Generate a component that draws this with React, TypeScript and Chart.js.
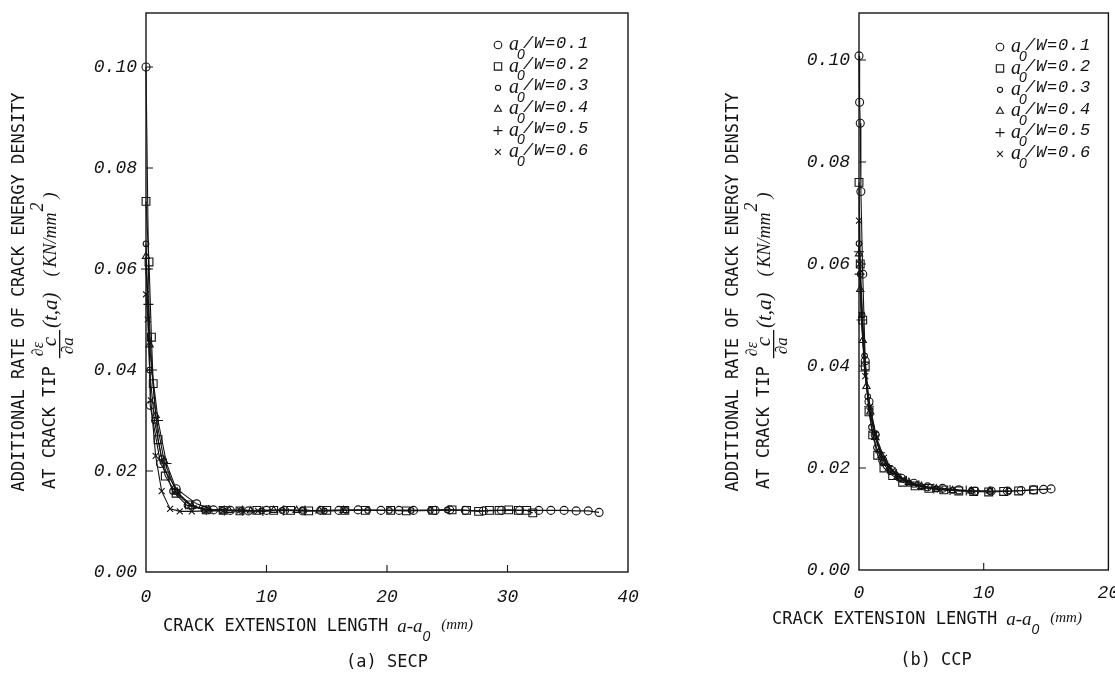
import React, { useEffect, useRef } from "react";
import { Chart, registerables } from "chart.js";

Chart.register(...registerables);

// ---------- data ----------
const ratioLabels = ["0.1", "0.2", "0.3", "0.4", "0.5", "0.6"];
const markerStyles = ["circle", "rect", "circle", "triangle", "cross", "crossRot"];
const markerRadii = [4, 5.5, 2.8, 4.2, 5, 4.2];
const legendRadii = [3.8, 5.2, 2.6, 4, 4.5, 4];

const yTickValues = [0, 0.02, 0.04, 0.06, 0.08, 0.1];
const xTicksSecp = [0, 10, 20, 30, 40];
const xTicksCcp = [0, 10, 20];

// (a) SECP
const secpX1 = [0, 0.35, 1.2, 2.5, 4.2, 5.6, 7.0, 8.5, 10.0, 11.5, 13.0, 14.5, 16.0, 17.6, 19.5, 21.0, 22.2, 24.0, 25.2, 26.5, 28.0, 29.5, 31.0, 32.6, 33.6, 34.7, 35.7, 36.7, 37.6];
const secpY1 = [0.1, 0.033, 0.0215, 0.0165, 0.0135, 0.0123, 0.0122, 0.0121, 0.0122, 0.0122, 0.0121, 0.0122, 0.0122, 0.0123, 0.0122, 0.0122, 0.0122, 0.0122, 0.0123, 0.0122, 0.0121, 0.0122, 0.0122, 0.0122, 0.0122, 0.0122, 0.0121, 0.0121, 0.0118];
const secpX2 = [0, 0.25, 0.45, 0.6, 1.0, 1.6, 2.5, 3.6, 5.0, 6.4, 7.8, 9.2, 10.6, 12.0, 13.5, 15.0, 16.5, 18.2, 20.3, 21.6, 23.8, 25.4, 26.6, 27.6, 28.5, 29.3, 30.1, 30.9, 31.6, 32.1];
const secpY2 = [0.0734, 0.0614, 0.0465, 0.0373, 0.0262, 0.019, 0.0156, 0.0133, 0.0123, 0.0122, 0.0121, 0.0122, 0.0122, 0.0122, 0.0121, 0.0122, 0.0122, 0.0122, 0.0122, 0.0121, 0.0122, 0.0123, 0.0122, 0.012, 0.0122, 0.0122, 0.0123, 0.0122, 0.0122, 0.0117];
const secpX3 = [0, 0.3, 0.7, 1.3, 2.2, 3.4, 4.8, 6.3, 7.9, 9.6, 11.3, 13.0, 14.8, 16.6, 18.4, 20.2, 22.0, 23.6, 25.0];
const secpY3 = [0.065, 0.04, 0.03, 0.0225, 0.016, 0.0132, 0.0124, 0.0122, 0.0122, 0.0121, 0.0122, 0.0122, 0.0121, 0.0122, 0.0122, 0.0122, 0.0122, 0.0122, 0.0123];
const secpX4 = [0, 0.3, 0.8, 1.5, 2.5, 3.8, 5.2, 6.9, 8.7, 10.6, 12.5, 14.4, 16.4];
const secpY4 = [0.0625, 0.045, 0.031, 0.022, 0.0158, 0.013, 0.0123, 0.0122, 0.0121, 0.0122, 0.0122, 0.0121, 0.0122];
const secpX5 = [0, 0.2, 0.5, 1.0, 1.7, 2.6, 3.8, 5.0, 6.5, 8.0, 9.7, 11.4, 13.2];
const secpY5 = [0.06, 0.053, 0.04, 0.03, 0.0215, 0.0158, 0.0131, 0.0123, 0.0122, 0.0122, 0.0121, 0.0122, 0.0122];
const secpX6 = [0, 0.15, 0.4, 0.8, 1.3, 2.0, 2.8, 3.8, 5.0, 6.4, 7.8, 9.3];
const secpY6 = [0.055, 0.05, 0.034, 0.023, 0.016, 0.0125, 0.012, 0.012, 0.0121, 0.0121, 0.0122, 0.0121];

// (b) CCP
const ccpX1 = [0, 0.05, 0.1, 0.15, 0.3, 0.5, 0.8, 1.3, 1.9, 2.6, 3.4, 4.4, 5.5, 6.7, 8.0, 9.3, 10.6, 11.9, 13.0, 14.0, 14.8, 15.4];
const ccpY1 = [0.1008, 0.0917, 0.0876, 0.0742, 0.058, 0.041, 0.033, 0.0265, 0.0215, 0.0195, 0.018, 0.017, 0.0163, 0.016, 0.0157, 0.0155, 0.0155, 0.0155, 0.0156, 0.0157, 0.0158, 0.0159];
const ccpX2 = [0, 0.1, 0.3, 0.5, 0.8, 1.1, 1.5, 2.0, 2.7, 3.5, 4.5, 5.6, 6.8, 8.0, 9.2, 10.4, 11.6, 12.8, 14.0];
const ccpY2 = [0.076, 0.06, 0.049, 0.04, 0.031, 0.0265, 0.0225, 0.02, 0.0185, 0.0172, 0.0165, 0.016, 0.0157, 0.0155, 0.0154, 0.0153, 0.0154, 0.0155, 0.0157];
const ccpX3 = [0, 0.1, 0.25, 0.45, 0.7, 1.0, 1.4, 1.9, 2.5, 3.2, 4.0, 5.0, 6.2, 7.5, 9.0, 10.5, 12.0];
const ccpY3 = [0.064, 0.058, 0.05, 0.042, 0.034, 0.028, 0.024, 0.021, 0.0193, 0.018, 0.017, 0.0163, 0.0159, 0.0156, 0.0155, 0.0154, 0.0155];
const ccpX4 = [0, 0.1, 0.3, 0.6, 0.9, 1.3, 1.8, 2.4, 3.1, 4.0, 5.0, 6.2, 7.5, 9.0, 10.5];
const ccpY4 = [0.062, 0.055, 0.045, 0.036, 0.031, 0.026, 0.0225, 0.02, 0.0183, 0.0172, 0.0164, 0.0159, 0.0156, 0.0155, 0.0155];
const ccpX5 = [0, 0.05, 0.2, 0.45, 0.8, 1.2, 1.7, 2.3, 3.0, 3.8, 4.8, 6.0, 7.3, 8.6];
const ccpY5 = [0.0624, 0.058, 0.049, 0.039, 0.032, 0.027, 0.023, 0.0205, 0.0188, 0.0175, 0.0166, 0.016, 0.0157, 0.0156];
const ccpX6 = [0, 0.05, 0.2, 0.5, 0.9, 1.4, 2.0, 2.7, 3.5, 4.4, 5.4, 6.5];
const ccpY6 = [0.0685, 0.06, 0.05, 0.038, 0.032, 0.026, 0.022, 0.0195, 0.0178, 0.0168, 0.0162, 0.0158];

const INK = "#141414";
const MONO = '"DejaVu Sans Mono", monospace';
const SERIF = '"Liberation Serif", serif';
const TICKMONO = '"Liberation Mono", monospace';
const H = 686;

type PanelCfg = {
  id: string;
  left: number;
  width: number;
  plotLeft: number;
  plotRight: number;
  plotTop: number;
  plotBottom: number;
  xMax: number;
  yMax: number;
  xTicks: number[];
  xs: number[][];
  ys: number[][];
  yTitleX1: number;
  yTitleX2: number;
  yTitleCy: number;
  yTitleStart: number;
  xTitleX: number;
  xTitleY: number;
  caption: string;
  captionX: number;
  captionY: number;
  legendMarkerX: number;
  legendTextX: number;
  legendY: number;
  xTickPad: number;
};

function drawMarker(ctx: CanvasRenderingContext2D, style: string, x: number, y: number, r: number) {
  ctx.beginPath();
  if (style === "circle") {
    ctx.arc(x, y, r, 0, Math.PI * 2);
  } else if (style === "rect") {
    const s = r * Math.SQRT1_2;
    ctx.rect(x - s, y - s, 2 * s, 2 * s);
  } else if (style === "triangle") {
    let a = 0;
    ctx.moveTo(x + Math.sin(a) * r, y - Math.cos(a) * r);
    a += (2 * Math.PI) / 3;
    ctx.lineTo(x + Math.sin(a) * r, y - Math.cos(a) * r);
    a += (2 * Math.PI) / 3;
    ctx.lineTo(x + Math.sin(a) * r, y - Math.cos(a) * r);
    ctx.closePath();
  } else if (style === "cross") {
    ctx.moveTo(x, y - r);
    ctx.lineTo(x, y + r);
    ctx.moveTo(x - r, y);
    ctx.lineTo(x + r, y);
  } else {
    const d = r * Math.SQRT1_2;
    ctx.moveTo(x - d, y - d);
    ctx.lineTo(x + d, y + d);
    ctx.moveTo(x + d, y - d);
    ctx.lineTo(x - d, y + d);
  }
  ctx.stroke();
}

function drawYTitle(ctx: CanvasRenderingContext2D, c: PanelCfg) {
  ctx.fillStyle = INK;
  ctx.save();
  ctx.translate(c.yTitleX1, c.yTitleCy);
  ctx.rotate(-Math.PI / 2);
  ctx.font = `17px ${MONO}`;
  ctx.textAlign = "center";
  ctx.textBaseline = "middle";
  ctx.fillText("ADDITIONAL RATE OF CRACK ENERGY DENSITY", 0, 0);
  ctx.restore();

  ctx.save();
  ctx.translate(c.yTitleX2, c.yTitleStart);
  ctx.rotate(-Math.PI / 2);
  ctx.textAlign = "left";
  ctx.textBaseline = "middle";
  let p = 0;
  ctx.font = `17px ${MONO}`;
  ctx.fillText("AT CRACK TIP", p, 0);
  p += ctx.measureText("AT CRACK TIP").width + 10;
  // fraction  d(eps)_c / da
  ctx.font = `italic 16px ${SERIF}`;
  const numW = ctx.measureText("∂ε").width;
  ctx.fillText("∂ε", p, -12);
  ctx.font = `italic 21px ${SERIF}`;
  ctx.fillText("c", p + numW * 0.7, -1);
  ctx.fillRect(p - 2, 8, numW + 14, 1.3);
  ctx.font = `italic 17px ${SERIF}`;
  ctx.fillText("∂a", p + 2, 18);
  p += numW + 14;
  ctx.font = `italic 21px ${SERIF}`;
  ctx.fillText("(t,a)", p, 0);
  p += ctx.measureText("(t,a)").width + 16;
  ctx.font = `italic 18px ${SERIF}`;
  ctx.fillText("(", p, 0);
  p += ctx.measureText("(").width + 3;
  ctx.fillText("KN/mm", p, 0);
  p += ctx.measureText("KN/mm").width + 1;
  ctx.font = `italic 18px ${SERIF}`;
  ctx.fillText("2", p, -13);
  p += ctx.measureText("2").width + 4;
  ctx.font = `italic 18px ${SERIF}`;
  ctx.fillText(")", p, 0);
  ctx.restore();
}

function drawXTitle(ctx: CanvasRenderingContext2D, c: PanelCfg) {
  ctx.save();
  ctx.fillStyle = INK;
  ctx.textAlign = "left";
  ctx.textBaseline = "middle";
  let x = c.xTitleX;
  const y = c.xTitleY;
  ctx.font = `17px ${MONO}`;
  ctx.fillText("CRACK EXTENSION LENGTH", x, y);
  x += ctx.measureText("CRACK EXTENSION LENGTH").width + 9;
  ctx.font = `italic 19px ${SERIF}`;
  ctx.fillText("a-a", x, y);
  x += ctx.measureText("a-a").width;
  ctx.font = `italic 14px "Liberation Sans", sans-serif`;
  ctx.fillText("0", x, y + 10);
  x += ctx.measureText("0").width + 11;
  ctx.font = `italic 15px ${SERIF}`;
  ctx.fillText("(mm)", x, y - 2);
  ctx.font = `17px ${MONO}`;
  ctx.textAlign = "center";
  ctx.fillText(c.caption, c.captionX, c.captionY);
  ctx.restore();
}

function drawLegend(ctx: CanvasRenderingContext2D, c: PanelCfg) {
  ctx.save();
  ctx.strokeStyle = INK;
  ctx.fillStyle = INK;
  ctx.lineWidth = 1.1;
  ctx.textBaseline = "middle";
  ctx.textAlign = "left";
  for (let i = 0; i < ratioLabels.length; i++) {
    const y = c.legendY + i * 21.4;
    drawMarker(ctx, markerStyles[i], c.legendMarkerX, y, legendRadii[i]);
    ctx.font = `italic 20px ${SERIF}`;
    ctx.fillText("a", c.legendTextX, y);
    ctx.font = `italic 14px "Liberation Sans", sans-serif`;
    ctx.fillText("0", c.legendTextX + 8, y + 10);
    ctx.font = `italic 17px ${TICKMONO}`;
    const s = "/W=" + ratioLabels[i];
    for (let j = 0; j < s.length; j++) {
      ctx.fillText(s[j], c.legendTextX + 14 + j * 11, y - 2);
    }
  }
  ctx.restore();
}

function makeConfig(c: PanelCfg): any {
  const datasets = c.xs.map((xs, k) => ({
    label: "a0/W=" + ratioLabels[k],
    data: xs.map((x, i) => ({ x, y: c.ys[k][i] })),
    showLine: true,
    borderColor: INK,
    borderWidth: 1.1,
    pointStyle: markerStyles[k],
    pointRadius: markerRadii[k],
    pointBorderWidth: 1.1,
    pointBorderColor: INK,
    pointBackgroundColor: "rgba(0,0,0,0)",
    tension: 0,
    fill: false,
    clip: false,
  }));
  const framePlugin = {
    id: "frame-" + c.id,
    afterDraw(chart: any) {
      const ctx: CanvasRenderingContext2D = chart.ctx;
      const a = chart.chartArea;
      const xs = chart.scales.x;
      const ys = chart.scales.y;
      ctx.save();
      ctx.strokeStyle = INK;
      ctx.lineWidth = 1.4;
      ctx.strokeRect(a.left, a.top, a.right - a.left, a.bottom - a.top);
      ctx.lineWidth = 1.1;
      ctx.beginPath();
      yTickValues.slice(1).forEach((v) => {
        const py = ys.getPixelForValue(v);
        ctx.moveTo(a.left, py);
        ctx.lineTo(a.left + 7, py);
      });
      c.xTicks.slice(1, -1).forEach((v) => {
        const px = xs.getPixelForValue(v);
        ctx.moveTo(px, a.bottom);
        ctx.lineTo(px, a.bottom - 7);
      });
      ctx.stroke();
      ctx.restore();
      drawLegend(ctx, c);
      drawYTitle(ctx, c);
      drawXTitle(ctx, c);
    },
  };
  return {
    type: "scatter",
    data: { datasets },
    options: {
      responsive: false,
      animation: false,
      events: [],
      layout: {
        padding: {
          left: 0,
          top: c.plotTop,
          right: c.width - c.plotRight,
          bottom: 0,
        },
      },
      plugins: { legend: { display: false }, tooltip: { enabled: false }, title: { display: false } },
      scales: {
        x: {
          type: "linear",
          min: 0,
          max: c.xMax,
          grid: { display: false, drawTicks: false },
          border: { display: false },
          ticks: {
            stepSize: 10,
            includeBounds: false,
            padding: c.xTickPad,
            color: INK,
            font: { family: TICKMONO, style: "italic", size: 18 },
            maxRotation: 0,
            callback: (v: any) => String(v),
          },
          afterFit: (s: any) => {
            s.height = H - c.plotBottom;
            s.paddingLeft = 0;
            s.paddingRight = 0;
          },
        },
        y: {
          type: "linear",
          min: 0,
          max: c.yMax,
          grid: { display: false, drawTicks: false },
          border: { display: false },
          ticks: {
            stepSize: 0.02,
            includeBounds: false,
            padding: 9,
            color: INK,
            font: { family: TICKMONO, style: "italic", size: 18 },
            callback: (v: any) => Number(v).toFixed(2),
          },
          afterFit: (s: any) => {
            s.width = c.plotLeft;
            s.paddingTop = 0;
            s.paddingBottom = 0;
          },
        },
      },
    },
    plugins: [framePlugin],
  };
}

const secpPanel: PanelCfg = {
  id: "secp",
  left: 0,
  width: 700,
  plotLeft: 146,
  plotRight: 628,
  plotTop: 13,
  plotBottom: 572,
  xMax: 40,
  yMax: 0.1107,
  xTicks: xTicksSecp,
  xs: [secpX1, secpX2, secpX3, secpX4, secpX5, secpX6],
  ys: [secpY1, secpY2, secpY3, secpY4, secpY5, secpY6],
  yTitleX1: 20,
  yTitleX2: 51,
  yTitleCy: 292,
  yTitleStart: 489,
  xTitleX: 163,
  xTitleY: 627,
  caption: "(a) SECP",
  captionX: 387,
  captionY: 663,
  legendMarkerX: 498,
  legendTextX: 509,
  legendY: 45,
  xTickPad: 14,
};

const ccpPanel: PanelCfg = {
  id: "ccp",
  left: 700,
  width: 415,
  plotLeft: 159,
  plotRight: 410,
  plotTop: 13,
  plotBottom: 570,
  xMax: 20,
  yMax: 0.1092,
  xTicks: xTicksCcp,
  xs: [ccpX1, ccpX2, ccpX3, ccpX4, ccpX5, ccpX6],
  ys: [ccpY1, ccpY2, ccpY3, ccpY4, ccpY5, ccpY6],
  yTitleX1: 34,
  yTitleX2: 65,
  yTitleCy: 292,
  yTitleStart: 489,
  xTitleX: 72,
  xTitleY: 620,
  caption: "(b) CCP",
  captionX: 236,
  captionY: 661,
  legendMarkerX: 300,
  legendTextX: 311,
  legendY: 47,
  xTickPad: 12,
};

function ChartPanel({ cfg }: { cfg: PanelCfg }) {
  const ref = useRef<HTMLCanvasElement | null>(null);
  useEffect(() => {
    if (!ref.current) return;
    const chart = new Chart(ref.current, makeConfig(cfg));
    return () => chart.destroy();
  }, [cfg]);
  return (
    <canvas
      ref={ref}
      width={cfg.width}
      height={H}
      style={{ position: "absolute", left: cfg.left, top: 0, width: cfg.width, height: H }}
    />
  );
}

export default function App() {
  return (
    <div
      style={{
        position: "fixed",
        left: 0,
        top: 0,
        width: 1115,
        height: H,
        background: "#ffffff",
        overflow: "hidden",
      }}
    >
      <ChartPanel cfg={secpPanel} />
      <ChartPanel cfg={ccpPanel} />
    </div>
  );
}
